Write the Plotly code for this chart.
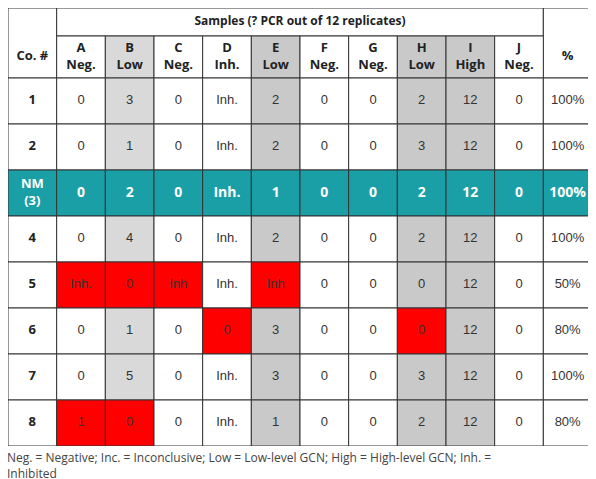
import plotly.graph_objects as go

columns = ["A", "B", "C", "D", "E", "F", "G", "H", "I", "J"]
col_types = ["Neg.", "Low", "Neg.", "Inh.", "Low", "Neg.", "Neg.", "Low", "High", "Neg."]
row_labels = ["1", "2", "NM<br>(3)", "4", "5", "6", "7", "8"]
values = [
    ["0", "3", "0", "Inh.", "2", "0", "0", "2", "12", "0"],
    ["0", "1", "0", "Inh.", "2", "0", "0", "3", "12", "0"],
    ["0", "2", "0", "Inh.", "1", "0", "0", "2", "12", "0"],
    ["0", "4", "0", "Inh.", "2", "0", "0", "2", "12", "0"],
    ["Inh.", "0", "Inh", "Inh.", "Inh", "0", "0", "0", "12", "0"],
    ["0", "1", "0", "0", "3", "0", "0", "0", "12", "0"],
    ["0", "5", "0", "Inh.", "3", "0", "0", "3", "12", "0"],
    ["1", "0", "0", "Inh.", "1", "0", "0", "2", "12", "0"],
]
percent = ["100%", "100%", "100%", "100%", "50%", "80%", "100%", "80%"]
red_cells = [(4, 0), (4, 1), (4, 2), (4, 4), (5, 3), (5, 7), (7, 0), (7, 1)]
highlight_row = 2
title = "Samples (? PCR out of 12 replicates)"
footnote = "Neg. = Negative; Inc. = Inconclusive; Low = Low-level GCN; High = High-level GCN; Inh. =<br>Inhibited"

col_fill = {1: "#d9d9d9", 4: "#c9c9c9", 7: "#c9c9c9", 8: "#c9c9c9"}
TEAL = "#1a9fa6"
RED = "#ff0000"
LINE = "#333333"
H1, H2, RH = 28, 42, 46

fig = go.Figure()
shapes = []
def rect(x0, x1, y0, y1, fill):
    shapes.append(dict(type="rect", xref="x", yref="y", x0=x0, x1=x1, y0=y0, y1=y1,
                       fillcolor=fill, line=dict(color=LINE, width=1), layer="below"))

rect(0, 1, 0, H1 + H2, "white")
rect(1, 11, 0, H1, "white")
rect(11, 12, 0, H1 + H2, "white")
for j in range(10):
    rect(1 + j, 2 + j, H1, H1 + H2, col_fill.get(j, "white"))
for i in range(len(values)):
    y0 = H1 + H2 + i * RH
    hl = i == highlight_row
    rect(0, 1, y0, y0 + RH, TEAL if hl else "white")
    for j in range(10):
        f = TEAL if hl else (RED if (i, j) in red_cells else col_fill.get(j, "white"))
        rect(1 + j, 2 + j, y0, y0 + RH, f)
    rect(11, 12, y0, y0 + RH, TEAL if hl else "white")

bold_font = dict(family="Open Sans", size=12, color="#222")
fig.add_trace(go.Scatter(x=[6], y=[H1 / 2], mode="text", text=["<b>" + title + "</b>"],
                         textfont=bold_font, hoverinfo="skip"))
hx = [0.5] + [1.5 + j for j in range(10)] + [11.5]
ht = ["<b>Co. #</b>"] + [f"<b>{c}<br>{t}</b>" for c, t in zip(columns, col_types)] + ["<b>%</b>"]
fig.add_trace(go.Scatter(x=hx, y=[H1 + H2 / 2] * 12, mode="text", text=ht,
                         textfont=dict(family="Open Sans", size=13, color="#222"), hoverinfo="skip"))
for i, lab in enumerate(row_labels):
    yc = H1 + H2 + i * RH + RH / 2
    hl = i == highlight_row
    fig.add_trace(go.Scatter(x=[0.5], y=[yc], mode="text", text=[f"<b>{lab}</b>"],
                             textfont=dict(family="Open Sans", size=13, color="white" if hl else "#222"),
                             hoverinfo="skip"))
    cells = values[i] + [percent[i]]
    if hl:
        txt = [f"<b>{v}</b>" for v in cells]
        fnt = dict(family="Open Sans", size=14, color="white")
    else:
        txt = cells
        fnt = dict(family="Liberation Sans", size=13, color="#333")
    fig.add_trace(go.Scatter(x=[1.5 + j for j in range(11)], y=[yc] * 11, mode="text", text=txt,
                             textfont=fnt, hoverinfo="skip"))

total_h = H1 + H2 + RH * len(values)
fig.update_layout(
    width=584, height=471, margin=dict(l=0, r=0, t=0, b=33),
    paper_bgcolor="white", plot_bgcolor="white", showlegend=False, shapes=shapes,
    xaxis=dict(range=[0, 12], visible=False, fixedrange=True),
    yaxis=dict(range=[total_h, 0], visible=False, fixedrange=True),
    annotations=[dict(text=footnote, xref="paper", yref="paper", x=-0.005, y=-0.002,
                      xanchor="left", yanchor="top", showarrow=False, align="left",
                      font=dict(family="Open Sans", size=12, color="#444"))],
)
fig.write_html("out.html")
